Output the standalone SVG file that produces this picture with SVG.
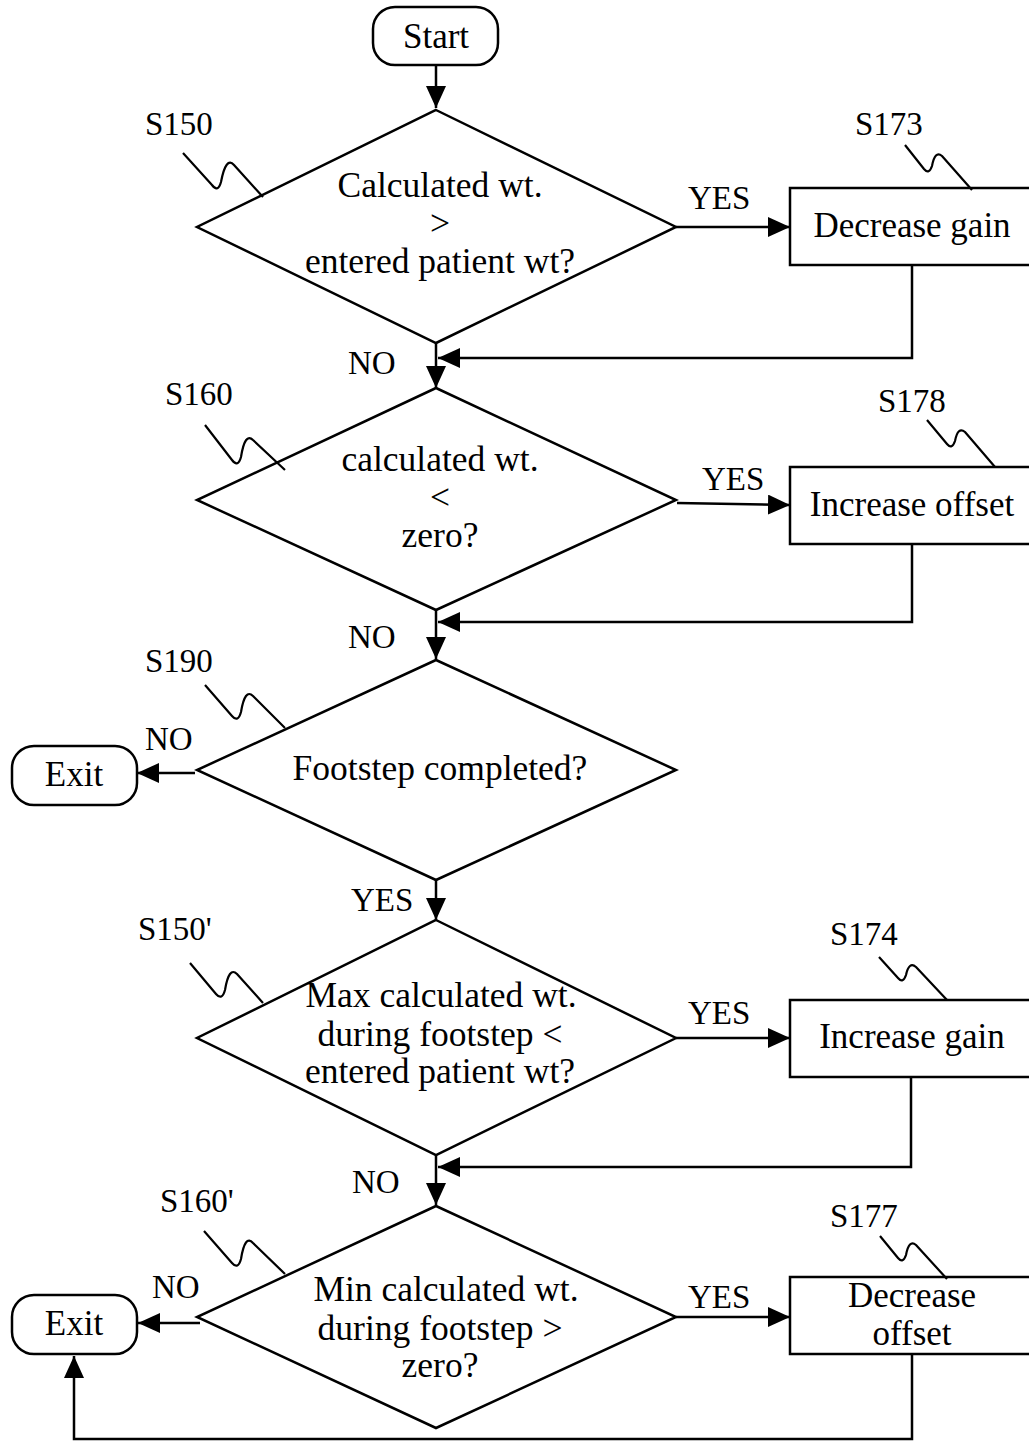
<svg xmlns="http://www.w3.org/2000/svg" width="1029" height="1441" viewBox="0 0 1029 1441">
<style>
  .shape { fill: #fff; stroke: #000; stroke-width: 2.5; }
  .line { fill: none; stroke: #000; stroke-width: 2.5; }
  .squig { fill: none; stroke: #000; stroke-width: 2.2; stroke-linejoin: round; }
  text { font-family: "Liberation Serif", "Times New Roman", serif; fill: #000; }
  .node { font-size: 35px; text-anchor: middle; }
  .dtext { font-size: 35.5px; text-anchor: middle; }
  .lbl { font-size: 33px; }
</style>
<defs>
  <marker id="arrow" markerUnits="userSpaceOnUse" markerWidth="24" markerHeight="22" refX="22" refY="10" orient="auto">
    <path d="M0,0 L22,10 L0,20 Z" fill="#000"/>
  </marker>
</defs>

<g id="connectors">
  <line class="line" x1="436" y1="65" x2="436" y2="108" marker-end="url(#arrow)"/>
  <line class="line" x1="676" y1="227" x2="790" y2="227" marker-end="url(#arrow)"/>
  <polyline class="line" points="912,265 912,358 438,358" marker-end="url(#arrow)"/>
  <line class="line" x1="436" y1="343" x2="436" y2="388" marker-end="url(#arrow)"/>
  <line class="line" x1="677" y1="503" x2="790" y2="505" marker-end="url(#arrow)"/>
  <polyline class="line" points="912,544 912,622 438,622" marker-end="url(#arrow)"/>
  <line class="line" x1="436" y1="610" x2="436" y2="659" marker-end="url(#arrow)"/>
  <line class="line" x1="195" y1="773" x2="137" y2="773" marker-end="url(#arrow)"/>
  <line class="line" x1="436" y1="880" x2="436" y2="920" marker-end="url(#arrow)"/>
  <line class="line" x1="676" y1="1038" x2="790" y2="1038" marker-end="url(#arrow)"/>
  <polyline class="line" points="911,1077 911,1167 438,1167" marker-end="url(#arrow)"/>
  <line class="line" x1="436" y1="1155" x2="436" y2="1205" marker-end="url(#arrow)"/>
  <line class="line" x1="200" y1="1323" x2="138" y2="1323" marker-end="url(#arrow)"/>
  <line class="line" x1="676" y1="1317" x2="790" y2="1317" marker-end="url(#arrow)"/>
  <polyline class="line" points="912,1354 912,1439 74,1439 74,1356" marker-end="url(#arrow)"/>
</g>

<g id="labels">
  <text class="lbl" x="688" y="209">YES</text>
  <text class="lbl" x="348" y="374">NO</text>
  <text class="lbl" x="702" y="490">YES</text>
  <text class="lbl" x="348" y="648">NO</text>
  <text class="lbl" x="145" y="750">NO</text>
  <text class="lbl" x="351" y="911">YES</text>
  <text class="lbl" x="688" y="1024">YES</text>
  <text class="lbl" x="352" y="1193">NO</text>
  <text class="lbl" x="152" y="1298">NO</text>
  <text class="lbl" x="688" y="1308">YES</text>
</g>

<g id="start">
  <rect class="shape" x="373" y="7" width="125" height="58" rx="22"/>
  <text class="node" x="436" y="48">Start</text>
</g>

<g id="S150">
  <polygon class="shape" points="436,110 676,227 436,343 197,227"/>
  <text class="dtext" x="440" y="197">Calculated wt.</text>
  <text class="dtext" x="440" y="235">&gt;</text>
  <text class="dtext" x="440" y="273">entered patient wt?</text>
  <text class="lbl" x="145" y="135">S150</text>
  <path class="squig" d="M183,153 L212,185 Q218,193 221,182 Q226,156 234,165 L263,197"/>
</g>

<g id="S173">
  <rect class="shape" x="790" y="188" width="245" height="77"/>
  <text class="node" x="912" y="237">Decrease gain</text>
  <text class="lbl" x="855" y="135">S173</text>
  <path class="squig" d="M905,145 L924,169 Q929,175 932,166 Q935,150 942,156 L972,190"/>
</g>

<g id="S160">
  <polygon class="shape" points="436,388 676,500 436,610 197,500"/>
  <text class="dtext" x="440" y="471">calculated wt.</text>
  <text class="dtext" x="440" y="509">&lt;</text>
  <text class="dtext" x="440" y="547">zero?</text>
  <text class="lbl" x="165" y="405">S160</text>
  <path class="squig" d="M205,425 L232,460 Q238,468 241,457 Q245,432 253,440 L285,470"/>
</g>

<g id="S178">
  <rect class="shape" x="790" y="467" width="245" height="77"/>
  <text class="node" x="912" y="516">Increase offset</text>
  <text class="lbl" x="878" y="412">S178</text>
  <path class="squig" d="M927,420 L947,444 Q952,450 955,441 Q958,426 965,432 L995,467"/>
</g>

<g id="S190">
  <polygon class="shape" points="436,660 676,770 436,880 197,770"/>
  <text class="dtext" x="440" y="780">Footstep completed?</text>
  <text class="lbl" x="145" y="672">S190</text>
  <path class="squig" d="M205,685 L232,716 Q238,723 241,712 Q245,688 253,696 L285,728"/>
</g>

<g id="exit1">
  <rect class="shape" x="12" y="746" width="125" height="59" rx="22"/>
  <text class="node" x="74" y="786">Exit</text>
</g>

<g id="S150p">
  <polygon class="shape" points="436,920 676,1038 436,1155 197,1038"/>
  <text class="dtext" x="441" y="1007">Max calculated wt.</text>
  <text class="dtext" x="440" y="1046">during footstep &lt;</text>
  <text class="dtext" x="440" y="1083">entered patient wt?</text>
  <text class="lbl" x="138" y="940">S150'</text>
  <path class="squig" d="M190,963 L216,994 Q222,1001 225,990 Q229,966 237,974 L263,1003"/>
</g>

<g id="S174">
  <rect class="shape" x="790" y="1000" width="245" height="77"/>
  <text class="node" x="912" y="1048">Increase gain</text>
  <text class="lbl" x="830" y="945">S174</text>
  <path class="squig" d="M879,957 L898,978 Q903,984 906,975 Q909,961 916,967 L947,1000"/>
</g>

<g id="S160p">
  <polygon class="shape" points="436,1206 676,1317 436,1428 197,1317"/>
  <text class="dtext" x="446" y="1301">Min calculated wt.</text>
  <text class="dtext" x="440" y="1340">during footstep &gt;</text>
  <text class="dtext" x="440" y="1377">zero?</text>
  <text class="lbl" x="160" y="1212">S160'</text>
  <path class="squig" d="M204,1231 L232,1263 Q238,1270 241,1259 Q245,1234 253,1243 L285,1274"/>
</g>

<g id="S177">
  <rect class="shape" x="790" y="1277" width="245" height="77"/>
  <text class="node" x="912" y="1307">Decrease</text>
  <text class="node" x="912" y="1345">offset</text>
  <text class="lbl" x="830" y="1227">S177</text>
  <path class="squig" d="M880,1236 L898,1258 Q903,1264 906,1255 Q909,1239 916,1245 L947,1279"/>
</g>

<g id="exit2">
  <rect class="shape" x="12" y="1295" width="125" height="59" rx="22"/>
  <text class="node" x="74" y="1335">Exit</text>
</g>
</svg>
